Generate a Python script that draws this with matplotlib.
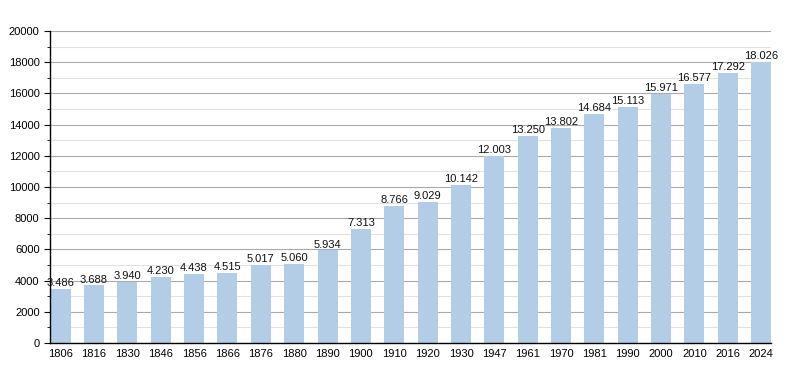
import matplotlib.pyplot as plt
from matplotlib.ticker import MultipleLocator

plt.rcParams['font.family'] = ['Liberation Sans', 'DejaVu Sans']

years = ['1806', '1816', '1830', '1846', '1856', '1866', '1876', '1880', '1890', '1900', '1910',
         '1920', '1930', '1947', '1961', '1970', '1981', '1990', '2000', '2010', '2016', '2024']
population = [3486, 3688, 3940, 4230, 4438, 4515, 5017, 5060, 5934, 7313, 8766,
              9029, 10142, 12003, 13250, 13802, 14684, 15113, 15971, 16577, 17292, 18026]

fig = plt.figure(figsize=(8, 3.73), dpi=100)
ax = fig.add_axes([0.0625, 0.0804, 0.9015, 0.8365])

x = range(len(years))
ax.bar(x, population, width=0.6, color='#b3cde6', zorder=2)
for i, v in zip(x, population):
    ax.text(i, v + 60, f"{v:,}".replace(',', '.'), ha='center', va='bottom',
            fontsize=8, color='#111111', zorder=3)

ax.set_xlim(-0.32, len(years) - 0.7)
ax.set_ylim(0, 20000)
ax.set_xticks(list(x))
ax.set_xticklabels(years)
ax.yaxis.set_major_locator(MultipleLocator(2000))
ax.yaxis.set_minor_locator(MultipleLocator(1000))
ax.grid(axis='y', which='major', color='#aaaaaa', linewidth=0.8, zorder=0)
ax.grid(axis='y', which='minor', color='#e2e2e2', linewidth=0.8, zorder=0)
ax.tick_params(axis='x', length=0, labelsize=8, pad=4)
ax.tick_params(axis='y', which='major', length=4, labelsize=8, direction='out')
ax.tick_params(axis='y', which='minor', length=2, direction='out')
for s in ['top', 'right']:
    ax.spines[s].set_visible(False)
ax.spines['left'].set_linewidth(1)
ax.spines['bottom'].set_linewidth(1)

fig.savefig('out.png', dpi=100)
